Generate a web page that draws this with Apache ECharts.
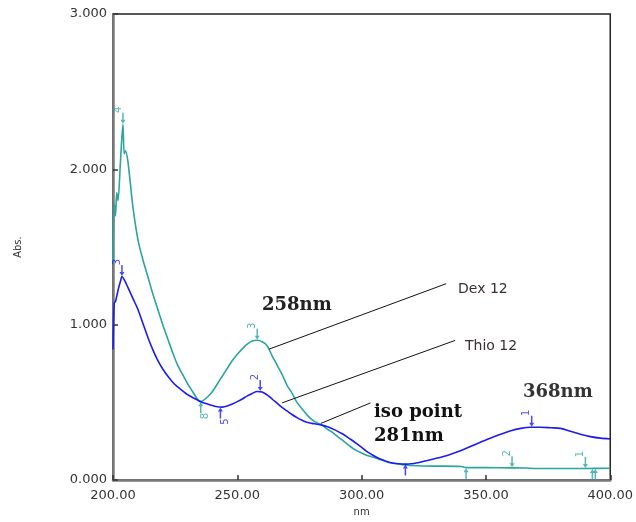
<!DOCTYPE html>
<html>
<head>
<meta charset="utf-8">
<script src="https://cdn.jsdelivr.net/npm/echarts@6/dist/echarts.min.js"></script>
<style>html,body{margin:0;padding:0;background:#fff}#c{width:636px;height:522px}</style>
</head>
<body>
<div id="c"></div>
<script>
// ---- data ----
const dexWavelength = [200, 200.5, 201, 201.5, 202, 203, 204, 204.5, 205, 206, 208, 210, 212, 214, 216, 218, 220, 222, 224, 226, 228, 230, 232, 234, 235, 236, 238, 240, 242, 244, 246, 248, 250, 252, 254, 256, 258, 260, 262, 264, 266, 268, 270, 272, 274, 276, 278, 280, 282, 284, 286, 288, 290, 292, 294, 296, 298, 300, 302, 304, 306, 308, 310, 312, 314, 316, 318, 320, 325, 330, 340, 342, 350, 360, 366, 370, 380, 390, 400];
const dexAbs = [1.40, 1.78, 1.70, 1.85, 1.80, 2.05, 2.29, 2.10, 2.12, 2.05, 1.76, 1.55, 1.42, 1.31, 1.20, 1.10, 1.00, 0.91, 0.82, 0.74, 0.68, 0.62, 0.57, 0.52, 0.505, 0.51, 0.535, 0.57, 0.62, 0.67, 0.72, 0.77, 0.81, 0.845, 0.875, 0.895, 0.90, 0.89, 0.865, 0.80, 0.74, 0.68, 0.61, 0.56, 0.50, 0.46, 0.42, 0.39, 0.37, 0.355, 0.33, 0.31, 0.285, 0.26, 0.235, 0.21, 0.19, 0.175, 0.16, 0.15, 0.14, 0.13, 0.12, 0.11, 0.105, 0.10, 0.097, 0.094, 0.091, 0.09, 0.088, 0.08, 0.08, 0.079, 0.078, 0.075, 0.075, 0.075, 0.076];

const thioWavelength = [200, 200.5, 201, 202, 203, 203.6, 204.5, 206, 208, 210, 212, 214, 216, 218, 220, 222, 224, 226, 228, 230, 232, 234, 236, 238, 240, 242, 244, 246, 248, 250, 252, 254, 256, 258, 260, 262, 264, 266, 268, 270, 272, 274, 276, 278, 280, 282, 284, 286, 288, 290, 292, 294, 296, 298, 300, 302, 304, 306, 308, 310, 312, 314, 316, 318, 320, 322, 326, 330, 335, 340, 345, 350, 355, 360, 364, 368, 372, 376, 380, 384, 388, 392, 396, 400];
const thioAbs = [0.84, 1.14, 1.15, 1.22, 1.28, 1.31, 1.29, 1.24, 1.17, 1.10, 1.01, 0.92, 0.84, 0.77, 0.715, 0.67, 0.63, 0.60, 0.575, 0.55, 0.532, 0.515, 0.50, 0.49, 0.48, 0.472, 0.47, 0.477, 0.49, 0.505, 0.522, 0.542, 0.558, 0.57, 0.567, 0.548, 0.522, 0.495, 0.468, 0.445, 0.422, 0.402, 0.385, 0.372, 0.365, 0.36, 0.354, 0.345, 0.332, 0.317, 0.30, 0.28, 0.258, 0.235, 0.21, 0.185, 0.165, 0.147, 0.132, 0.12, 0.112, 0.107, 0.104, 0.103, 0.105, 0.11, 0.125, 0.14, 0.162, 0.19, 0.225, 0.258, 0.29, 0.318, 0.333, 0.34, 0.34, 0.337, 0.333, 0.315, 0.295, 0.28, 0.27, 0.265];

// peak-pick markers: [wavelength, abs, label]
const dexMarksAbove = [[204, 2.29, '4'], [258, 0.90, '3'], [360.5, 0.079, '2'], [390, 0.075, '1']];
const dexMarksBelow = [[235.3, 0.505, '8'], [342, 0.08, ''], [392.8, 0.075, ''], [394, 0.075, '']];
const thioMarksAbove = [[203.6, 1.31, '3'], [259.2, 0.57, '2'], [368.4, 0.34, '1']];
const thioMarksBelow = [[243.2, 0.47, '5'], [317.6, 0.103, '']];

// leader lines: [[x1,y1],[x2,y2]]
const leaderLines = [
  [[262.8, 0.843], [334, 1.264]],
  [[268, 0.497], [337.6, 0.899]],
  [[283.6, 0.365], [303.6, 0.497]]
];

const xTicks = {min: 200, max: 400, interval: 50};
const yTicks = {min: 0, max: 3, interval: 1};

const TEAL = '#2aa59f';
const BLUE = '#1c1cf0';

const pair = (xs, ys) => xs.map((x, i) => [x, ys[i]]);
const arrowPath = 'path://M-0.6,0 L0.6,0 L0.6,7 L2,7 L0,11 L-2,7 L-0.6,7 Z';

function markSeries(data, color, above) {
  return {
    type: 'scatter',
    data: data,
    symbol: arrowPath,
    symbolSize: [5, 11],
    symbolKeepAspect: false,
    symbolRotate: above ? 0 : 180,
    symbolOffset: [0, above ? -6 : 6],
    itemStyle: {color: color},
    z: 5,
    silent: true,
    label: {
      show: true,
      formatter: p => p.data[2],
      position: above ? 'top' : 'bottom',
      distance: 3,
      rotate: 90,
      color: color,
      fontSize: 10,
      fontFamily: 'DejaVu Sans'
    }
  };
}

const chart = echarts.init(document.getElementById('c'), null, {renderer: 'canvas'});
chart.setOption({
  animation: false,
  backgroundColor: '#fff',
  grid: {left: 113, right: 22, top: 14, bottom: 31, show: true, borderColor: '#222', borderWidth: 1.5, containLabel: false},
  xAxis: {
    type: 'value', min: xTicks.min, max: xTicks.max, interval: xTicks.interval,
    name: 'nm', nameLocation: 'middle', nameGap: 24,
    nameTextStyle: {fontSize: 10, color: '#333', fontFamily: 'DejaVu Sans'},
    axisLine: {show: true, lineStyle: {color: '#7a7a7a', width: 2.5}},
    axisTick: {show: true, inside: true, length: 5, lineStyle: {color: '#333', width: 1.5}},
    axisLabel: {formatter: v => v.toFixed(2), color: '#333', fontSize: 13, fontFamily: 'DejaVu Sans', margin: 9},
    splitLine: {show: false}
  },
  yAxis: {
    type: 'value', min: yTicks.min, max: yTicks.max, interval: yTicks.interval,
    name: 'Abs.', nameLocation: 'middle', nameGap: 90, nameRotate: 90,
    nameTextStyle: {fontSize: 10, color: '#333', fontFamily: 'DejaVu Sans'},
    axisLine: {show: true, lineStyle: {color: '#7a7a7a', width: 2.5}},
    axisTick: {show: true, inside: true, length: 5, lineStyle: {color: '#333', width: 1.5}},
    axisLabel: {formatter: v => v.toFixed(3), color: '#333', fontSize: 13, fontFamily: 'DejaVu Sans', margin: 6},
    splitLine: {show: false}
  },
  series: [
    {
      name: 'Dex 12', type: 'line', data: pair(dexWavelength, dexAbs),
      showSymbol: false, smooth: 0.3, lineStyle: {color: TEAL, width: 1.6}, itemStyle: {color: TEAL}, z: 3,
      markLine: {
        silent: true, symbol: 'none', animation: false,
        lineStyle: {color: '#111', width: 1, type: 'solid'},
        label: {show: false},
        data: leaderLines.map(l => [{coord: l[0]}, {coord: l[1]}])
      }
    },
    {
      name: 'Thio 12', type: 'line', data: pair(thioWavelength, thioAbs),
      showSymbol: false, smooth: 0.3, lineStyle: {color: BLUE, width: 1.6}, itemStyle: {color: BLUE}, z: 4
    },
    markSeries(dexMarksAbove, TEAL, true),
    markSeries(dexMarksBelow, TEAL, false),
    markSeries(thioMarksAbove, BLUE, true),
    markSeries(thioMarksBelow, BLUE, false)
  ],
  graphic: [
    {type: 'text', left: 262, top: 296, style: {text: '258nm', font: 'bold 18px "DejaVu Serif"', fill: '#222'}},
    {type: 'text', left: 523, top: 383, style: {text: '368nm', font: 'bold 18px "DejaVu Serif"', fill: '#333'}},
    {type: 'text', left: 374, top: 403, style: {text: 'iso point', font: 'bold 18px "DejaVu Serif"', fill: '#111'}},
    {type: 'text', left: 374, top: 427, style: {text: '281nm', font: 'bold 18px "DejaVu Serif"', fill: '#111'}},
    {type: 'text', left: 458, top: 282, style: {text: 'Dex 12', font: '14px "DejaVu Sans"', fill: '#3a3030'}},
    {type: 'text', left: 465, top: 339, style: {text: 'Thio 12', font: '14px "DejaVu Sans"', fill: '#3a3030'}}
  ]
});
</script>
</body>
</html>
